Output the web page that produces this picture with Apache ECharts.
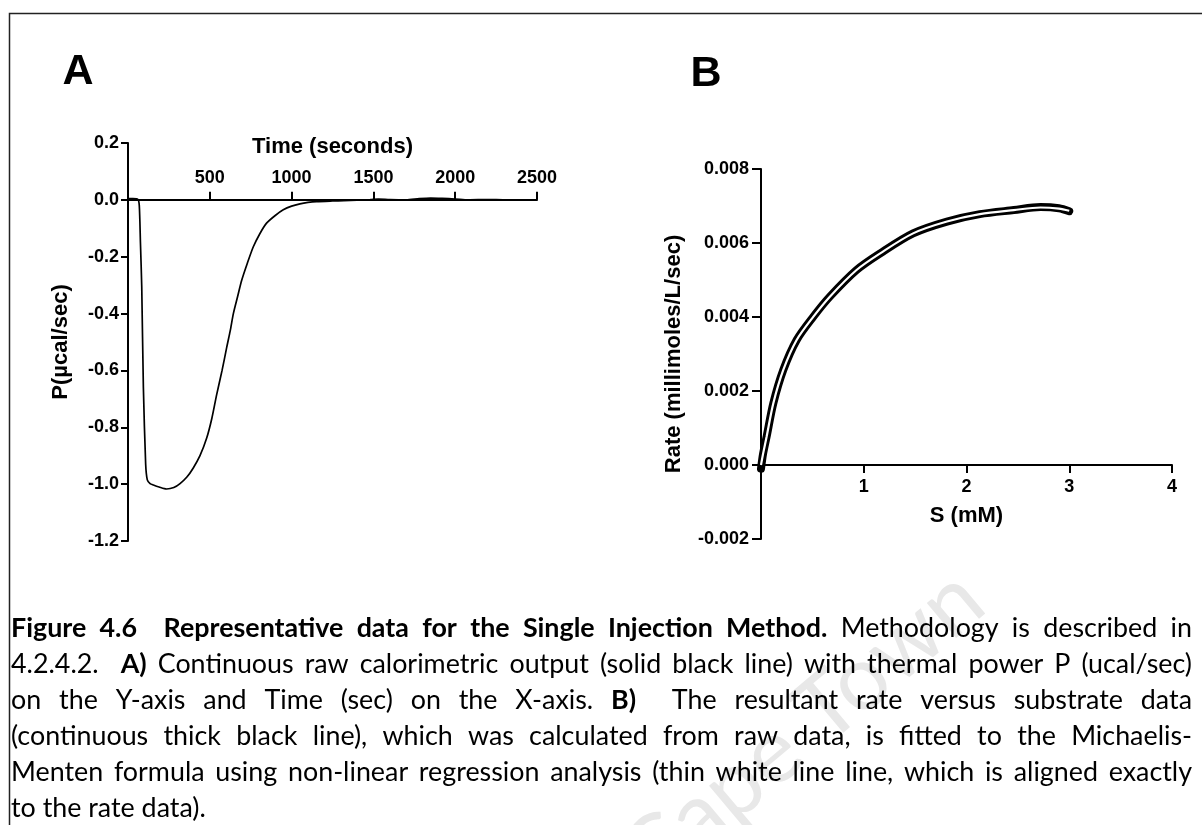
<!DOCTYPE html>
<html>
<head>
<meta charset="utf-8">
<script src="https://cdn.jsdelivr.net/npm/echarts@6/dist/echarts.min.js"></script>
<style>
html,body{margin:0;padding:0;background:#fff;}
#c{width:1202px;height:825px;}
</style>
</head>
<body>
<div id="c"></div>
<script>
// ---------- Panel A: raw calorimetric output ----------
const timeA  = [0, 30, 60, 69, 76, 84, 94, 108, 118, 135, 155, 190, 236, 280, 318, 360, 399, 440, 481, 512, 542, 575, 603, 625, 644, 670, 695, 730, 766, 805, 847, 900, 949, 1000, 1051, 1100, 1153, 1250, 1320, 1400, 1480, 1530, 1600, 1700, 1780, 1850, 1920, 2000, 2080, 2200, 2300, 2400];
const powerA = [0.004, 0.004, 0.002, -0.02, -0.15, -0.306, -0.66, -0.93, -0.985, -0.998, -1.003, -1.01, -1.017, -1.012, -0.998, -0.975, -0.943, -0.9, -0.838, -0.77, -0.685, -0.6, -0.52, -0.46, -0.4, -0.34, -0.283, -0.222, -0.165, -0.12, -0.082, -0.055, -0.035, -0.022, -0.014, -0.009, -0.006, -0.004, -0.003, -0.001, 0.001, 0.003, 0.001, 0.0, 0.004, 0.006, 0.005, 0.003, 0.0, 0.001, 0.0, 0.0];
const xTicksA = [0, 500, 1000, 1500, 2000, 2500];
const yTicksA = [-1.2, -1.0, -0.8, -0.6, -0.4, -0.2, 0.0, 0.2];

// ---------- Panel B: rate vs substrate ----------
const substrateB = [0, 0.02, 0.055, 0.12, 0.217, 0.347, 0.51, 0.67, 0.93, 1.16, 1.48, 1.81, 2.13, 2.46, 2.72, 2.9, 3.0];
const rateB      = [-0.0001, 0.0003, 0.00077, 0.00167, 0.00257, 0.00338, 0.00401, 0.00455, 0.00527, 0.00572, 0.00626, 0.00658, 0.00678, 0.00689, 0.00697, 0.00694, 0.00686];
const fitB       = [0, 0.0003, 0.00077, 0.00167, 0.00257, 0.00338, 0.00401, 0.00455, 0.00527, 0.00572, 0.00626, 0.00658, 0.00678, 0.00689, 0.00696, 0.00693, 0.00687];
const xTicksB = [0, 1, 2, 3, 4];
const yTicksB = [-0.002, 0.0, 0.002, 0.004, 0.006, 0.008];

// ---------- Text ----------
const panelLetters = ['A', 'B'];
const axisNames = ['Time (seconds)', 'P(µcal/sec)', 'S (mM)', 'Rate (millimoles/L/sec)'];
const captionLines = [
  '*Figure 4.6  Representative data for the Single Injection Method.* Methodology is described in',
  '4.2.4.2.  *A)* Continuous raw calorimetric output (solid black line) with thermal power P (ucal/sec)',
  'on the Y-axis and Time (sec) on the X-axis. *B)*  The resultant rate versus substrate data',
  '(continuous thick black line), which was calculated from raw data, is fitted to the Michaelis-',
  'Menten formula using non-linear regression analysis (thin white line line, which is aligned exactly',
  'to the rate data).'
];
const watermarkText = 'University of Cape Town';

// ---------- build ----------
const AXF = 'Liberation Sans, Arial, sans-serif';
const CAPF = 'Lato, sans-serif';
const ctx = document.createElement('canvas').getContext('2d');
function tw(t, size, bold) { ctx.font = (bold ? 'bold ' : '') + size + 'px ' + CAPF; return ctx.measureText(t).width; }
const capSize = +(21 * 158 / tw('Methodology', 21, false)).toFixed(2);

const capLeft = 11, capRight = 1192, capTop = 628, capStep = 36;
const graphics = [];

// frame
graphics.push({type:'rect', shape:{x:9.5, y:13.5, width:1400, height:1000}, style:{fill:'none', stroke:'#222', lineWidth:1.5}, z:1});

// watermark
graphics.push({type:'text', x:1000, y:622, rotation: 40 * Math.PI / 180, z:0,
  style:{text: watermarkText, x:0, y:0, align:'right', verticalAlign:'bottom', font:'90px ' + CAPF, fill:'#e8e8e8'}});

// panel letters
graphics.push({type:'text', z:5, style:{text: panelLetters[0], x:78, y:72, align:'center', verticalAlign:'middle', font:'bold 43px ' + AXF, fill:'#000'}});
graphics.push({type:'text', z:5, style:{text: panelLetters[1], x:706, y:74, align:'center', verticalAlign:'middle', font:'bold 43px ' + AXF, fill:'#000'}});

// caption (justified)
captionLines.forEach((line, li) => {
  let bold = false;
  const words = line.split(' ').map(tok => {
    let t = tok;
    if (t.startsWith('*')) { bold = !bold; t = t.slice(1); }
    const wb = bold;
    if (t.endsWith('*')) { bold = !bold; t = t.slice(0, -1); }
    return {t, b: wb, w: t ? tw(t, capSize, wb) : 0};
  });
  const sum = words.reduce((a, w) => a + w.w, 0);
  const last = li === captionLines.length - 1;
  const gap = last ? tw(' ', capSize, false) : (capRight - capLeft - sum) / (words.length - 1);
  let x = capLeft;
  const y = capTop + li * capStep;
  words.forEach(w => {
    if (w.t) {
      graphics.push({type:'text', z:5, style:{text:w.t, x:x, y:y, align:'left', verticalAlign:'middle',
        font:(w.b ? 'bold ' : '') + capSize + 'px ' + CAPF, fill:'#000'}});
    }
    x += w.w + gap;
  });
});

const gridA = {left:128, top:143, width:409, height:398};
const gridB = {left:761, top:169, width:411, height:370};
const yMinA = yTicksA[0], yMaxA = yTicksA[yTicksA.length-1];
const yMinB = yTicksB[0], yMaxB = yTicksB[yTicksB.length-1];
// place x axes at y = 0 using offset (pixels from the grid edge)
const offA = -gridA.height * (yMaxA - 0) / (yMaxA - yMinA);
const offB = -gridB.height * (0 - yMinB) / (yMaxB - yMinB);

const lblStyle = {color:'#000', fontWeight:'bold', fontSize:18, fontFamily:AXF};
const nameStyle = {color:'#000', fontWeight:'bold', fontSize:22, fontFamily:AXF};
const tick = (len) => ({length:len, lineStyle:{color:'#000', width:2}});
const line = {show:true, onZero:false, lineStyle:{color:'#000', width:2}};

const option = {
  animation:false,
  backgroundColor:'#fff',
  graphic: graphics,
  grid:[gridA, gridB],
  xAxis:[
    {gridIndex:0, type:'value', position:'top', offset:offA, min:xTicksA[0], max:xTicksA[xTicksA.length-1], interval:500,
     axisLine:line, axisTick:tick(8),
     axisLabel:Object.assign({showMinLabel:false, margin:13, formatter:v => String(v)}, lblStyle),
     splitLine:{show:false},
     name:axisNames[0], nameLocation:'middle', nameGap:42, nameTextStyle:nameStyle},
    {gridIndex:1, type:'value', position:'bottom', offset:offB, min:xTicksB[0], max:xTicksB[xTicksB.length-1], interval:1,
     axisLine:line, axisTick:tick(8),
     axisLabel:Object.assign({showMinLabel:false, margin:13, formatter:v => String(v)}, lblStyle),
     splitLine:{show:false},
     name:axisNames[2], nameLocation:'middle', nameGap:40, nameTextStyle:nameStyle}
  ],
  yAxis:[
    {gridIndex:0, type:'value', min:yMinA, max:yMaxA, interval:0.2,
     axisLine:line, axisTick:tick(7),
     axisLabel:Object.assign({margin:9, formatter:v => (Math.abs(v) < 1e-9 ? 0 : v).toFixed(1)}, lblStyle),
     splitLine:{show:false},
     name:axisNames[1], nameLocation:'middle', nameGap:56, nameTextStyle:nameStyle},
    {gridIndex:1, type:'value', min:yMinB, max:yMaxB, interval:0.002,
     axisLine:line, axisTick:tick(9),
     axisLabel:Object.assign({margin:12, formatter:v => (Math.abs(v) < 1e-12 ? 0 : v).toFixed(3)}, lblStyle),
     splitLine:{show:false},
     name:axisNames[3], nameLocation:'middle', nameGap:76, nameTextStyle:nameStyle}
  ],
  series:[
    {type:'line', xAxisIndex:0, yAxisIndex:0, data: timeA.map((t,i)=>[t, powerA[i]]),
     showSymbol:false, symbol:'none', smooth:0.25, silent:true,
     lineStyle:{color:'#000', width:1.7}},
    {type:'line', xAxisIndex:1, yAxisIndex:1, data: substrateB.map((s,i)=>[s, rateB[i]]),
     showSymbol:false, symbol:'none', smooth:0.3, silent:true,
     lineStyle:{color:'#000', width:8, cap:'round', join:'round'}},
    {type:'line', xAxisIndex:1, yAxisIndex:1, data: substrateB.map((s,i)=>[s, fitB[i]]),
     showSymbol:false, symbol:'none', smooth:0.3, silent:true,
     lineStyle:{color:'#fff', width:2.2}}
  ]
};

const chart = echarts.init(document.getElementById('c'), null, {renderer:'canvas'});
chart.setOption(option);
</script>
</body>
</html>
